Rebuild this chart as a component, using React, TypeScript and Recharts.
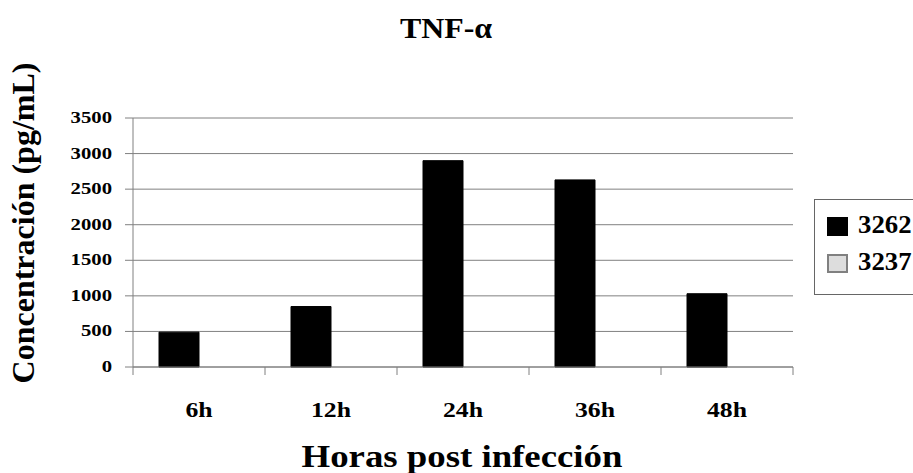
import React from 'react';
import { BarChart, Bar, XAxis, YAxis, CartesianGrid } from 'recharts';

const hours = ['6h', '12h', '24h', '36h', '48h'];
const strain3262 = [490, 850, 2900, 2630, 1030];
const strain3237 = [0, 0, 0, 0, 0];
const yTicks = [0, 500, 1000, 1500, 2000, 2500, 3000, 3500];

const series = [
  { key: 's3262', name: '3262', fill: '#000000', stroke: '#000000' },
  { key: 's3237', name: '3237', fill: '#dddddd', stroke: '#808080' },
];

const data = hours.map((h, i) => ({ hour: h, s3262: strain3262[i], s3237: strain3237[i] }));

const W = 913;
const H = 473;
const PLOT_LEFT = 133;
const PLOT_RIGHT = 793;
const PLOT_TOP = 118;
const PLOT_BOTTOM = 367;
const HALF_BAND = (PLOT_RIGHT - PLOT_LEFT) / hours.length / 2;
const FONT = "'Times New Roman', 'Liberation Serif', Times, 'Nimbus Roman', 'Nimbus Roman No9 L', FreeSerif, serif";
const GRID = '#808080';

const XTick = (props: any) => {
  const { x, y, payload, index } = props;
  return (
    <g>
      <line x1={x - HALF_BAND} x2={x - HALF_BAND} y1={y} y2={y + 8} stroke={GRID} />
      {index === hours.length - 1 && (
        <line x1={x + HALF_BAND} x2={x + HALF_BAND} y1={y} y2={y + 8} stroke={GRID} />
      )}
      <text
        transform={`translate(${x},${y + 50}) scale(1.17,1)`}
        textAnchor="middle"
        style={{ fontFamily: FONT }}
        fontWeight="bold"
        fontSize={22}
        fill="#000"
      >
        {payload.value}
      </text>
    </g>
  );
};

const YTick = (props: any) => {
  const { x, y, payload } = props;
  return (
    <text
      transform={`translate(${x},${y + 5}) scale(1.22,1)`}
      textAnchor="end"
      style={{ fontFamily: FONT }}
      fontWeight="bold"
      fontSize={17}
      fill="#000"
    >
      {payload.value}
    </text>
  );
};

export default function App() {
  return (
    <div style={{ position: 'absolute', left: 0, top: 0, width: W, height: H, overflow: 'hidden', background: '#fff', fontFamily: FONT }}>
      <BarChart
        width={W}
        height={H}
        data={data}
        margin={{ top: PLOT_TOP, right: W - PLOT_RIGHT, bottom: 0, left: 0 }}
        barCategoryGap={26}
        barGap={0}
      >
        <CartesianGrid horizontal vertical={false} stroke={GRID} strokeDasharray="" />
        <XAxis
          dataKey="hour"
          height={H - PLOT_BOTTOM}
          axisLine={{ stroke: GRID }}
          tickLine={false}
          tickSize={0}
          tickMargin={0}
          interval={0}
          tick={<XTick />}
        />
        <YAxis
          width={PLOT_LEFT}
          domain={[0, 3500]}
          ticks={yTicks}
          interval={0}
          axisLine={{ stroke: GRID }}
          tickLine={{ stroke: GRID }}
          tickSize={8}
          tickMargin={13}
          tick={<YTick />}
        />
        {series.map((s) => (
          <Bar key={s.key} dataKey={s.key} name={s.name} fill={s.fill} stroke={s.stroke} isAnimationActive={false} />
        ))}
        <text
          transform="translate(446,38) scale(1.1,1)"
          textAnchor="middle"
          style={{ fontFamily: FONT }}
          fontWeight="bold"
          fontSize={29}
          fill="#000"
        >
          TNF-α
        </text>
        <text
          transform="translate(462,467) scale(1.15,1)"
          textAnchor="middle"
          style={{ fontFamily: FONT }}
          fontWeight="bold"
          fontSize={32}
          fill="#000"
        >
          Horas post infección
        </text>
        <text
          transform="translate(34,223) rotate(-90)"
          textAnchor="middle"
          style={{ fontFamily: FONT }}
          fontWeight="bold"
          fontSize={32}
          fill="#000"
        >
          Concentración (pg/mL)
        </text>
      </BarChart>
      <div
        style={{
          position: 'absolute',
          left: 814,
          top: 199,
          width: 130,
          height: 96,
          border: '1px solid #666',
          background: '#fff',
          boxSizing: 'border-box',
        }}
      >
        {series.map((s, i) => (
          <div key={s.key} style={{ position: 'absolute', left: 12, top: 17 + i * 37, height: 20 }}>
            <div
              style={{
                position: 'absolute',
                left: 0,
                top: 0,
                width: 21,
                height: 19,
                background: s.fill,
                border: `2px solid ${s.stroke}`,
                boxSizing: 'border-box',
              }}
            />
            <div
              style={{
                position: 'absolute',
                left: 31,
                top: -7,
                fontFamily: FONT,
                fontWeight: 'bold',
                fontSize: 25,
                lineHeight: '30px',
                transform: 'scaleX(1.07)',
                transformOrigin: 'left center',
                whiteSpace: 'nowrap',
              }}
            >
              {s.name}
            </div>
          </div>
        ))}
      </div>
    </div>
  );
}
